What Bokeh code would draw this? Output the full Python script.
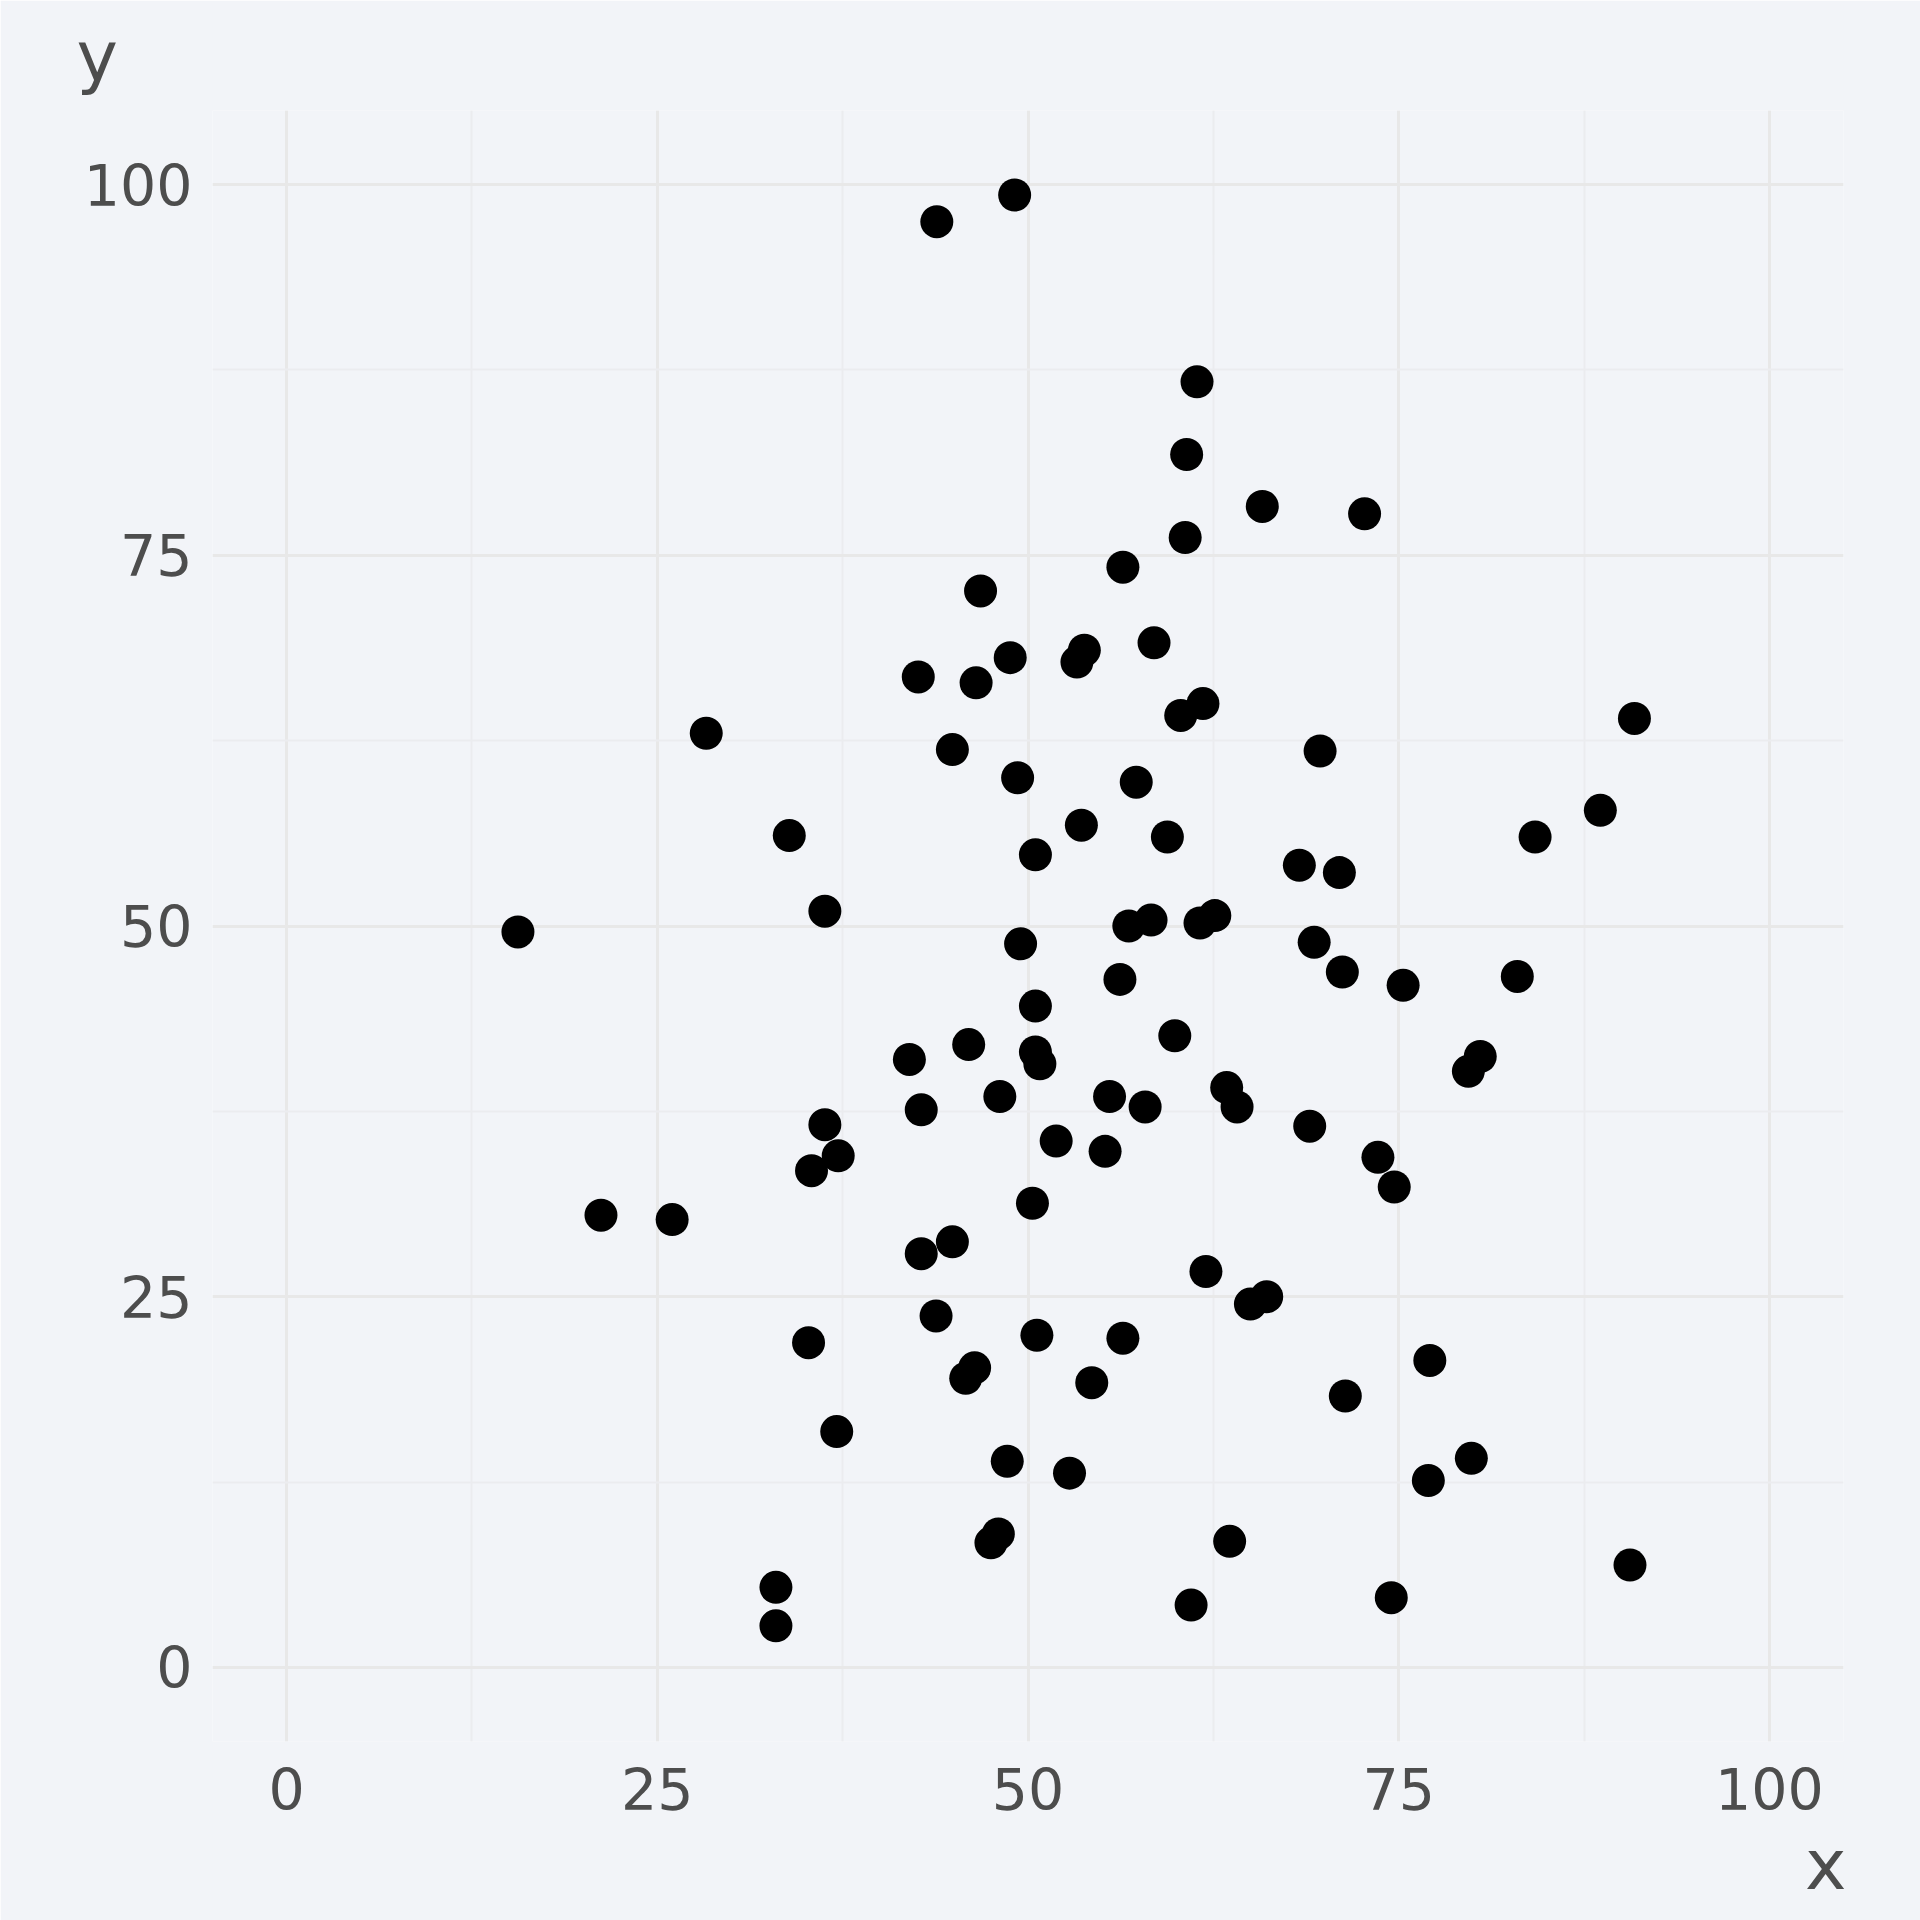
from bokeh.plotting import figure
from bokeh.models import FixedTicker, Title, Range1d
from bokeh.embed import file_html
from bokeh.resources import INLINE

x_vals = [43.85, 49.1, 61.4, 60.7, 65.8, 72.7, 60.6, 56.4, 46.8, 58.5,
          53.8, 53.3, 48.8, 42.6, 46.5, 61.8, 60.3, 28.3, 90.9, 44.9,
          69.7, 49.3, 57.3, 88.6, 53.6, 33.9, 59.4, 84.2, 50.5, 68.3,
          71.0, 36.3, 62.6, 58.3, 56.8, 61.6, 15.6, 49.5, 69.3, 71.2,
          56.2, 83.0, 75.3, 50.5, 59.9, 46.0, 50.5, 50.8, 42.0, 80.5,
          79.7, 63.4, 55.5, 48.1, 64.1, 57.9, 42.8, 36.3, 69.0, 51.9,
          55.2, 37.2, 73.6, 35.4, 74.7, 21.2, 26.0, 50.3, 44.9, 42.8,
          62.0, 65.0, 66.1, 43.8, 50.6, 56.4, 35.2, 46.4, 45.8, 77.1,
          54.3, 71.4, 37.1, 48.6, 79.9, 52.8, 77.0, 48.0, 47.5, 63.6,
          90.6, 33.0, 74.5, 61.0, 33.0]
y_vals = [97.5, 99.3, 86.7, 81.8, 78.3, 77.8, 76.2, 74.2, 72.6, 69.1,
          68.6, 67.8, 68.1, 66.8, 66.4, 65.0, 64.2, 63.0, 64.0, 61.9,
          61.8, 60.0, 59.7, 57.8, 56.8, 56.1, 56.0, 56.0, 54.8, 54.1,
          53.6, 51.0, 50.7, 50.4, 50.0, 50.2, 49.6, 48.8, 48.9, 46.9,
          46.4, 46.6, 46.0, 44.6, 42.6, 42.0, 41.5, 40.7, 41.0, 41.2,
          40.2, 39.1, 38.5, 38.5, 37.8, 37.8, 37.6, 36.6, 36.5, 35.5,
          34.8, 34.5, 34.4, 33.5, 32.4, 30.5, 30.2, 31.3, 28.7, 27.9,
          26.7, 24.5, 25.0, 23.7, 22.4, 22.2, 21.9, 20.2, 19.5, 20.7,
          19.2, 18.3, 15.9, 13.9, 14.1, 13.1, 12.6, 9.0, 8.4, 8.5,
          6.9, 5.4, 4.7, 4.2, 2.8]

major_ticks = [0, 25, 50, 75, 100]
minor_ticks = [12.5, 37.5, 62.5, 87.5]

BG = "#F2F4F8"
FONT = "DejaVu Sans"
TXT = "#4D4D4D"

p = figure(frame_width=1631, frame_height=1631,
           min_border_left=212, min_border_right=77,
           min_border_top=110, min_border_bottom=179,
           x_range=Range1d(-5, 105), y_range=Range1d(-5, 105),
           output_backend="svg", toolbar_location=None)
p.background_fill_color = BG
p.border_fill_color = BG
p.outline_line_color = None

for ax in (p.xaxis[0], p.yaxis[0]):
    ax.ticker = FixedTicker(ticks=major_ticks, minor_ticks=minor_ticks)
    ax.axis_line_color = None
    ax.major_tick_line_color = None
    ax.minor_tick_line_color = None
    ax.major_label_text_font = FONT
    ax.major_label_text_font_size = "57px"
    ax.major_label_text_color = TXT
p.xaxis[0].major_label_standoff = 20
p.yaxis[0].major_label_standoff = 14

for g in (p.xgrid[0], p.ygrid[0]):
    g.grid_line_color = "#E8E8E8"
    g.grid_line_width = 3
    g.minor_grid_line_color = "#EBECEF"
    g.minor_grid_line_width = 2

p.scatter(x_vals, y_vals, size=33, color="black", line_color=None)

ty = Title(text="y", align="left", offset=-136, standoff=25,
           text_font=FONT, text_font_size="70px", text_color=TXT,
           text_font_style="normal")
p.add_layout(ty, "above")
tx = Title(text="x", align="right", offset=-3, standoff=18,
           text_font=FONT, text_font_size="70px", text_color=TXT,
           text_font_style="normal")
p.add_layout(tx, "below")

open("out.html", "w").write(file_html(p, INLINE))
